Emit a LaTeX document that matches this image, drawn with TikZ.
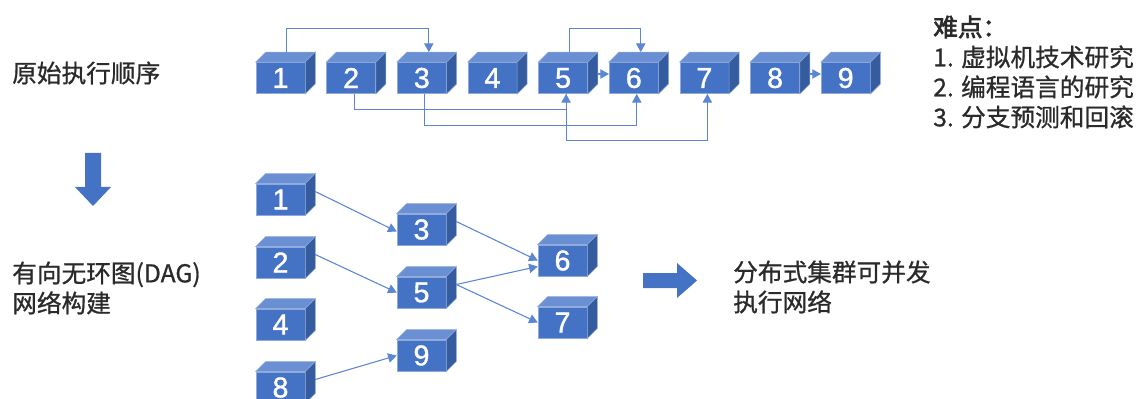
\documentclass[tikz,border=0pt]{standalone}
\usepackage{fontspec}
\setmainfont{Noto Sans CJK SC}
\newfontfamily\labelfont{Noto Sans CJK SC}[FakeBold=0.8]
\newfontfamily\headfont{Noto Sans CJK SC}[FakeBold=2.5]
\newfontfamily\digitfont{Liberation Sans}[FakeBold=1.2]
\usetikzlibrary{arrows.meta}
\definecolor{cubefront}{HTML}{4472C4}
\definecolor{cubetop}{HTML}{6A8FD2}
\definecolor{cubeside}{HTML}{345C9F}
\definecolor{cubeedge}{HTML}{8EA9DB}
\definecolor{linkblue}{HTML}{5A86D3}
\definecolor{labelgray}{HTML}{2A2A2A}
\newcommand{\cubefaces}[1]{
  \filldraw[fill=cubetop,draw=cubeedge,line width=0.4pt] (#1.north west) -- ([shift={(10,-10)}]#1.north west)
    -- ([shift={(10,-10)}]#1.north east) -- (#1.north east) -- cycle;
  \filldraw[fill=cubeside,draw=cubeedge,line width=0.4pt] (#1.north east) -- ([shift={(10,-10)}]#1.north east)
    -- ([shift={(10,-10)}]#1.south east) -- (#1.south east) -- cycle;
}
\tikzset{
  cube/.style={rectangle, fill=cubefront, draw=cubeedge, line width=0.4pt, inner sep=0pt,
    minimum width=36.75pt, minimum height=23.5pt, text=white, font=\digitfont\fontsize{21.5}{21.5}\selectfont},
  link/.style={draw=linkblue, line width=0.8pt, -{Triangle[length=6.5pt,width=7pt]}},
  caption/.style={anchor=west, inner sep=0pt, align=left, text=labelgray,
    font=\labelfont\fontsize{18.5}{22.5}\selectfont},
}
\begin{document}
\begin{tikzpicture}[x=0.75pt,y=-0.75pt]
  \useasboundingbox (0,0) rectangle (1142,399);
  \foreach \n in {1,...,9} {
    \pgfmathsetmacro{\xpos}{280.5 + (\n-1)*70.65}
    \node[cube] (t\n) at (\xpos,78) {\n};
    \cubefaces{t\n}
  }
  \foreach \n/\x/\y in {1/280.5/199.5, 2/280.5/262.5, 4/280.5/324.5, 8/280.5/387.5,
      3/421.5/229.5, 5/421.5/292.5, 9/421.5/355.5, 6/562.5/260.5, 7/562.5/322.5} {
    \node[cube] (b\n) at (\x,\y) {\n};
    \cubefaces{b\n}
  }

  \draw[link] ([shift={(6,-10)}]t1.north) -- ++(0,-24) -| ([shift={(7,-10)}]t3.north);
  \draw[link] ([shift={(6,-10)}]t5.north) -- ++(0,-24) -| ([shift={(7,-10)}]t6.north);
  \draw[link] ([shift={(10,-4)}]t5.east) -- ([shift={(0,-4)}]t6.west);
  \draw[link] ([shift={(10,-4)}]t8.east) -- ([shift={(0,-4)}]t9.west);
  \draw[link] ([shift={(3,0)}]t2.south) -- ++(0,16) -| ([shift={(3,0)}]t5.south);
  \draw[link] ([shift={(3,0)}]t3.south) -- ++(0,32) -| ([shift={(3,0)}]t6.south);
  \draw[link] ([shift={(3,0)}]t5.south) -- ++(0,47) -| ([shift={(3,0)}]t7.south);

  \draw[link] ([shift={(10,-8)}]b1.east) -- ([shift={(0,2)}]b3.west);
  \draw[link] ([shift={(10,-8)}]b2.east) -- (b5.west);
  \draw[link] ([shift={(10,-8)}]b3.east) -- (b6.west);
  \draw[link] ([shift={(10,-8)}]b5.east) -- ([shift={(0,6)}]b6.west);
  \draw[link] ([shift={(10,-8)}]b5.east) -- (b7.west);
  \draw[link] ([shift={(10,-8)}]b8.east) -- (b9.west);

  \fill[cubefront] (85,153) -- (101,153) -- (101,187) -- (111,187) -- (93,206) -- (75,187) -- (85,187) -- cycle;
  \fill[cubefront] (643,273) -- (677,273) -- (677,263) -- (697,280.5) -- (677,298) -- (677,288) -- (643,288) -- cycle;

  \node[caption] (origin) at (12,73) {原始执行顺序};
  \node[caption] (dag) at (12,288) {有向无环图(DAG)\\网络构建};
  \node[caption] (cluster) at (733,287) {分布式集群可并发\\执行网络};
  \node[caption] (hard) at (933,72) {{\headfont 难点：}\\1. 虚拟机技术研究\\2. 编程语言的研究\\3. 分支预测和回滚};
\end{tikzpicture}
\end{document}
